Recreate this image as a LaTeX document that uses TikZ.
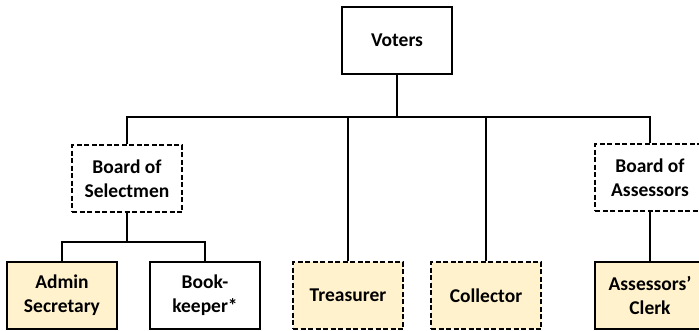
\documentclass[tikz,border=0pt]{standalone}
\usepackage{fontspec}
\setmainfont{Carlito}
\usepackage{tikz}
\usetikzlibrary{positioning, calc}
\usepackage{xcolor}
\definecolor{orgtan}{HTML}{FFF2CC}
\definecolor{orgline}{HTML}{000000}

\begin{document}
\begin{tikzpicture}[x=1pt, y=-1pt,
    font=\fontsize{19.5}{24}\selectfont\bfseries,
    orgbox/.style={draw=orgline, line width=1.3pt, minimum width=110pt,
                   minimum height=67pt, inner sep=0pt, align=center},
    boardbox/.style={orgbox, dash pattern=on 5pt off 2.5pt},
    staffbox/.style={orgbox, fill=orgtan},
    electbox/.style={orgbox, fill=orgtan, dash pattern=on 5pt off 2.5pt},
    orglink/.style={draw=orgline, line width=1.6pt}]
        \useasboundingbox (0,0) rectangle (699,330);
        % top
        \node[orgbox] (voters) at (397,40.5) {Voters};
        % boards
        \node[boardbox] (selectmen) at (127,178.5) {Board of\\Selectmen};
        \node[boardbox] (assessors) at (650,177.5) {Board of\\Assessors};
        % bottom row
        \node[staffbox] (admin) at (62,295.5) {Admin\\Secretary};
        \node[orgbox] (bookkeeper) at (205,295.5) {Book-\\keeper*};
        \node[electbox] (treasurer) at (348,295.5) {Treasurer};
        \node[electbox] (collector) at (486,295.5) {Collector};
        \node[staffbox] (clerk) at (650,295.5) {Assessors'\\Clerk};
        % bus lines
        \coordinate (bus) at (0,117);
        \coordinate (subbus) at (0,242);
        \draw[orglink] (voters.south) -- (voters.south |- bus);
        \draw[orglink] (selectmen.north) -- (selectmen.north |- bus)
              -- (assessors.north |- bus) -- (assessors.north);
        \draw[orglink] (treasurer.north) -- (treasurer.north |- bus);
        \draw[orglink] (collector.north) -- (collector.north |- bus);
        \draw[orglink] (selectmen.south) -- (selectmen.south |- subbus);
        \draw[orglink] (admin.north) -- (admin.north |- subbus)
              -- (bookkeeper.north |- subbus) -- (bookkeeper.north);
        \draw[orglink] (assessors.south) -- (clerk.north);
\end{tikzpicture}
\end{document}
